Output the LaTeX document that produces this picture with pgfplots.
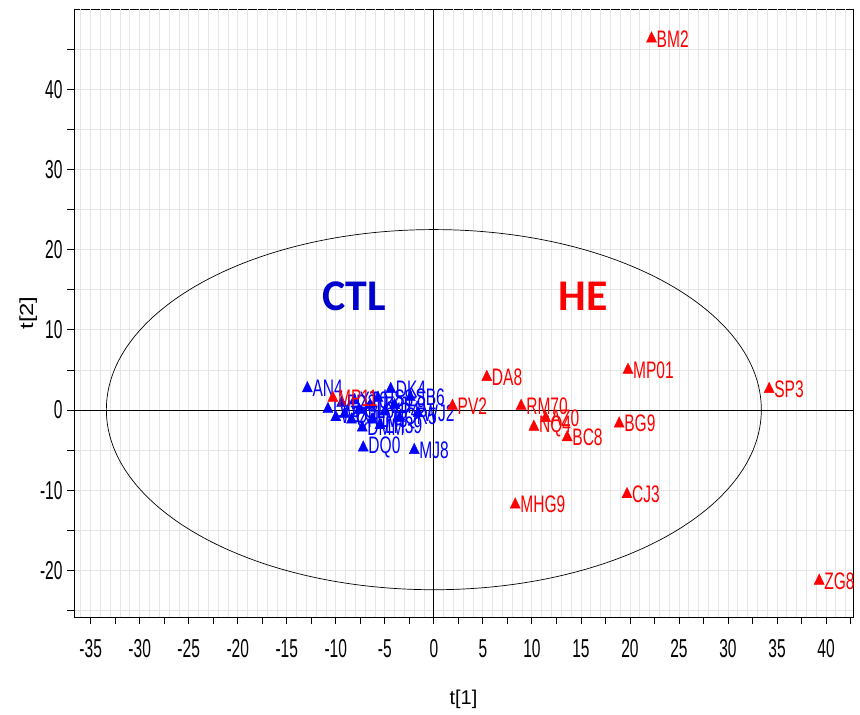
\documentclass[border=0pt]{standalone}
\usepackage{fontspec}
\setmainfont{Liberation Sans}
\newfontfamily\ticksans[FakeStretch=0.6]{Liberation Sans}
\newfontfamily\pointsans[FakeStretch=0.65]{Liberation Sans}
\newfontfamily\groupfont{Carlito}
\usepackage{pgfplots}
\pgfplotsset{compat=1.18}
\usepackage{pgfplotstable}

\definecolor{gridgray}{RGB}{229,229,229}
\definecolor{ctlblue}{RGB}{0,0,204}
\newcommand{\tickfont}{\ticksans\fontsize{26}{26}\selectfont}
\newcommand{\lblfont}{\pointsans\fontsize{24}{24}\selectfont}

% PCA scores t[1], t[2] -- control group
\pgfplotstableread{
x     y     name
-12.9  2.7  AN4
-7.2  -4.7  DQ0
-2.0  -5.0  MJ8
-4.4   2.6  DK4
-2.4   1.6  SB6
-1.6  -0.4  WJ2
-5.5  -1.9  LH39
-7.3  -2.2  DMM
-10.8  0.1  LY5
-10.0 -0.9  WQ3
-9.1  -0.5  ZX7
-8.4  -1.2  CH1
-7.6   0.0  GL6
-6.5   0.6  TK2
-5.7   1.5  HS8
-5.0  -0.2  YP4
-4.0   0.6  JF9
-3.5  -1.0  QR5
-6.3  -1.2  LM3
-8.1   1.2  XT0
-9.4   0.9  FD2
}\ctltable

% PCA scores t[1], t[2] -- HE group
\pgfplotstableread{
x     y      name
22.2  46.3   BM2
5.4    4.1   DA8
19.8   5.0   MP01
34.2   2.6   SP3
1.9    0.5   PV2
8.9    0.5   RM70
10.2  -2.1   NQ4
11.4  -1.0   AZ0
13.6  -3.4   BC8
18.9  -1.7   BG9
19.7 -10.5   CJ3
8.3  -11.8   MHG9
39.3 -21.3   ZG8
-10.3  1.5   MP11
}\hetable

\begin{document}
\begin{tikzpicture}
\begin{axis}[
  scale only axis,
  width=779bp, height=608bp,
  xmin=-36.7, xmax=42.75,
  ymin=-25.8, ymax=50,
  axis line style={black, line width=0.8bp},
  xtick={-35,-30,...,40},
  minor xtick={-32.5,-27.5,...,42.5},
  ytick={-20,-10,...,40},
  minor ytick={-25,-15,...,45},
  xtick pos=bottom, ytick pos=left,
  tick align=outside,
  major tick length=7bp, minor tick length=7bp,
  every tick/.style={black, line width=0.8bp},
  ymajorgrids, yminorgrids,
  major grid style={gridgray, line width=0.8bp},
  minor grid style={gridgray, line width=0.8bp},
  extra x ticks={-36,-35,...,42},
  extra x tick labels={},
  extra x tick style={grid=major, major tick length=0pt,
    major grid style={gridgray, line width=0.8bp}},
  tick label style={font=\tickfont},
  /pgf/number format/assume math mode=true,
  xticklabel style={yshift=-12bp},
  yticklabel style={xshift=-1bp},
  xlabel={t[1]},
  ylabel={\scalebox{1.2}[0.95]{t[2]}},
  label style={font=\fontsize{20}{20}\selectfont},
  xlabel style={yshift=-18bp},
  ylabel style={yshift=-4bp},
]
% zero lines
\draw[black, line width=0.8bp] (axis cs:0,-25.8) -- (axis cs:0,50);
\draw[black, line width=0.8bp] (axis cs:-36.7,0) -- (axis cs:42.75,0);
% Hotelling T2 ellipse
\draw[black, line width=0.7bp] (axis cs:0,0.05) ellipse [x radius=33.4, y radius=22.45];

\addplot[only marks, mark=triangle*, color=blue, mark size=5.8bp,
  mark options={yscale=1.2},
  nodes near coords, point meta=explicit symbolic,
  every node near coord/.append style={anchor=west, font=\lblfont,
    text=blue, inner sep=0pt, xshift=5bp}]
  table[x=x, y=y, meta=name] {\ctltable};

\addplot[only marks, mark=triangle*, color=red, mark size=5.8bp,
  mark options={yscale=1.2},
  nodes near coords, point meta=explicit symbolic,
  every node near coord/.append style={anchor=west, font=\lblfont,
    text=red, inner sep=0pt, xshift=5bp}]
  table[x=x, y=y, meta=name] {\hetable};

\node[font=\groupfont\bfseries\fontsize{44}{44}\selectfont, text=ctlblue]
  at (axis cs:-8.1,14.2) {CTL};
\node[font=\groupfont\bfseries\fontsize{44}{44}\selectfont, text=red]
  at (axis cs:15.2,14.2) {HE};
\end{axis}
\pgfresetboundingbox
\path ([shift={(-74bp,-97bp)}]current axis.south west)
  rectangle ([shift={(7bp,9bp)}]current axis.north east);
\end{tikzpicture}
\end{document}
